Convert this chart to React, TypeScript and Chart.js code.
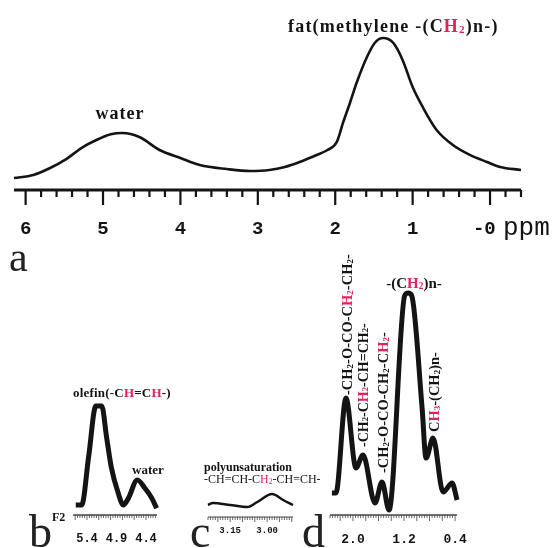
import React, { useEffect, useRef } from 'react';
import { Chart, registerables } from 'chart.js';

Chart.register(...registerables);

const PAGE_W = 553;
const PAGE_H = 548;
const INK = '#141414';
const RED = '#e3215a';
const SERIF = '"Liberation Serif", "Times New Roman", serif';
const MONO = '"Liberation Mono", "Courier New", monospace';

// ---------- panel a : full spectrum ----------
const ppmA = [6.15, 5.9, 5.69, 5.47, 5.27, 5.05, 4.9, 4.75, 4.53, 4.27, 4.0, 3.75, 3.4, 3.1, 2.85, 2.65, 2.46, 2.24, 2.1, 1.98, 1.9, 1.81, 1.72, 1.59, 1.49, 1.38, 1.25, 1.13, 1.0, 0.87, 0.69, 0.48, 0.26, 0.04, -0.13, -0.4];
const intensityA = [7.5, 9.4, 13.6, 19.5, 26.5, 32, 34.8, 35.6, 33.1, 25, 20, 15.6, 13.1, 11.9, 12.5, 14.4, 17.5, 21.9, 25, 30, 41.9, 54.4, 67.5, 83.1, 91.9, 95, 91.9, 81.3, 64.4, 51.9, 37.5, 28.1, 21.9, 17.5, 14.4, 12.5];
const tickValsA = [6, 5, 4, 3, 2, 1, 0];
const tickLabelsA = ['6', '5', '4', '3', '2', '1', '-0 '];

// ---------- panel b : olefin / water ----------
const ppmB = [5.59, 5.49, 5.37, 5.25, 5.15, 5.07, 4.99, 4.87, 4.785, 4.7, 4.547, 4.417, 4.3, 4.22];
const intensityB = [8.8, 8.8, 52, 95.6, 95.6, 69, 42.4, 19, 8.8, 14.6, 30.7, 23.4, 14.6, 5.9];
const tickValsB = [5.4, 4.9, 4.4];
const tickLabelsB = ['5.4', '4.9', '4.4'];

// ---------- panel c : polyunsaturation ----------
const ppmC = [3.24, 3.22, 3.15, 3.08, 3.04, 2.98, 2.935, 2.895];
const intensityC = [30, 35, 30, 25, 37.5, 57.5, 42.5, 30];
const tickValsC = [3.15, 3.0];
const tickLabelsC = ['3.15', '3.00'];

// ---------- panel d : aliphatic region ----------
const ppmD = [2.33, 2.267, 2.11, 1.953, 1.843, 1.655, 1.545, 1.435, 1.19, 1.137, 1.08, 0.918, 0.855, 0.745, 0.588, 0.447, 0.369];
const intensityD = [9.8, 9.8, 52, 20.9, 26.7, 5.3, 14.7, 2.2, 97.5, 98.7, 97.5, 48, 25.3, 34.2, 10.2, 14.2, 6.7];
const tickValsD = [2.0, 1.2, 0.4];
const tickLabelsD = ['2.0', '1.2', '0.4'];

type Note = {
  text: string; x: number; y: number; size: number; bold?: boolean;
  align?: 'left' | 'center'; rotate?: boolean; font?: string; spacing?: number; base?: boolean; color?: string;
};

type Ruler = { step: number; every: number; minorLen: number; majorLen: number; tickWidth: number; lineWidth: number; color: string };

type PanelCfg = {
  key: string; ppm: number[]; inten: number[];
  area: { l: number; r: number; t: number; b: number };
  range: [number, number];
  tickVals: number[]; tickLabels: string[];
  tickSize: number; tickWeight: string; tickPad: number;
  lineWidth: number; ruler: Ruler; notes: Note[];
};

function parseRich(s: string) {
  const segs: { t: string; red: boolean; sub: boolean }[] = [];
  let red = false;
  for (let i = 0; i < s.length; i++) {
    const c = s[i];
    if (c === '{') { red = true; continue; }
    if (c === '}') { red = false; continue; }
    if (c === '_') { segs.push({ t: s[i + 1], red, sub: true }); i++; continue; }
    segs.push({ t: c, red, sub: false });
  }
  return segs;
}

function drawNote(ctx: CanvasRenderingContext2D, n: Note) {
  ctx.save();
  const segs = parseRich(n.text);
  const family = n.font ?? SERIF;
  const fontFor = (sub: boolean) => `${n.bold ? 'bold ' : ''}${sub ? n.size * 0.62 : n.size}px ${family}`;
  (ctx as any).letterSpacing = `${n.spacing ?? 0}px`;
  const widths = segs.map((s) => { ctx.font = fontFor(s.sub); return ctx.measureText(s.t).width; });
  const total = widths.reduce((a, b) => a + b, 0);
  ctx.translate(n.x, n.y);
  if (n.rotate) ctx.rotate(-Math.PI / 2);
  let x0 = n.align === 'center' ? -total / 2 : 0;
  const base = n.base ? 0 : n.size * 0.34;
  ctx.textBaseline = 'alphabetic';
  ctx.textAlign = 'left';
  segs.forEach((s, i) => {
    ctx.font = fontFor(s.sub);
    ctx.fillStyle = s.red ? RED : (n.color ?? INK);
    ctx.fillText(s.t, x0, base + (s.sub ? n.size * 0.05 : 0));
    x0 += widths[i];
  });
  ctx.restore();
}

function buildConfig(cfg: PanelCfg): any {
  const a = cfg.area;
  const rulerPlugin = {
    id: 'ruler_' + cfg.key,
    afterDatasetsDraw(chart: any) {
      const ctx: CanvasRenderingContext2D = chart.ctx;
      const sx = chart.scales.x;
      const area = chart.chartArea;
      const r = cfg.ruler;
      ctx.save();
      ctx.strokeStyle = r.color;
      ctx.lineCap = 'butt';
      ctx.lineWidth = r.lineWidth;
      ctx.beginPath();
      ctx.moveTo(area.left, area.bottom);
      ctx.lineTo(area.right, area.bottom);
      ctx.stroke();
      const lo = Math.min(sx.min, sx.max);
      const hi = Math.max(sx.min, sx.max);
      const k0 = Math.ceil(lo / r.step - 1e-6);
      const k1 = Math.floor(hi / r.step + 1e-6);
      ctx.lineWidth = r.tickWidth;
      for (let k = k0; k <= k1; k++) {
        const px = sx.getPixelForValue(k * r.step);
        const major = ((k % r.every) + r.every) % r.every === 0;
        ctx.beginPath();
        ctx.moveTo(px, area.bottom);
        ctx.lineTo(px, area.bottom + (major ? r.majorLen : r.minorLen));
        ctx.stroke();
      }
      ctx.restore();
    },
  };
  const notesPlugin = {
    id: 'notes_' + cfg.key,
    afterDraw(chart: any) {
      cfg.notes.forEach((n) => drawNote(chart.ctx, n));
    },
  };
  return {
    type: 'line',
    data: {
      datasets: [{
        data: cfg.ppm.map((p, i) => ({ x: p, y: cfg.inten[i] })),
        borderColor: INK,
        borderWidth: cfg.lineWidth,
        pointRadius: 0,
        cubicInterpolationMode: 'monotone',
        fill: false,
        clip: false,
        borderJoinStyle: 'round',
        borderCapStyle: 'butt',
      }],
    },
    options: {
      responsive: false,
      animation: false,
      devicePixelRatio: 1,
      events: [],
      layout: { padding: { left: a.l, right: PAGE_W - a.r, top: a.t, bottom: 0 } },
      plugins: { legend: { display: false }, tooltip: { enabled: false } },
      scales: {
        x: {
          type: 'linear',
          reverse: true,
          min: cfg.range[0],
          max: cfg.range[1],
          grid: { display: false, drawTicks: false },
          border: { display: false },
          afterBuildTicks: (s: any) => { s.ticks = cfg.tickVals.map((v) => ({ value: v })); },
          afterFit: (s: any) => { s.height = PAGE_H - a.b; s.paddingLeft = 0; s.paddingRight = 0; },
          ticks: {
            autoSkip: false, maxRotation: 0, minRotation: 0,
            padding: cfg.tickPad, color: INK,
            font: { family: MONO, size: cfg.tickSize, weight: cfg.tickWeight },
            callback: (_v: any, i: number) => cfg.tickLabels[i],
          },
        },
        y: { display: false, min: 0, max: 100 },
      },
    },
    plugins: [rulerPlugin, notesPlugin],
  };
}

const panels: PanelCfg[] = [
  {
    key: 'a', ppm: ppmA, inten: intensityA,
    area: { l: 14, r: 521, t: 30, b: 190 }, range: [-0.4, 6.15],
    tickVals: tickValsA, tickLabels: tickLabelsA, tickSize: 19, tickWeight: 'bold', tickPad: 28,
    lineWidth: 2.6,
    ruler: { step: 0.2, every: 5, minorLen: 7, majorLen: 15, tickWidth: 2.2, lineWidth: 3, color: INK },
    notes: [
      { text: 'water', x: 120, y: 113, size: 18, bold: true, align: 'center', spacing: 1 },
      { text: 'fat(methylene -(C{H_2})n-)', x: 288, y: 26, size: 18, bold: true, spacing: 1.2 },
      { text: 'a', x: 9, y: 271, size: 42, base: true, color: '#222' },
      { text: 'ppm', x: 503, y: 235, size: 26, font: MONO, base: true },
    ],
  },
  {
    key: 'b', ppm: ppmB, inten: intensityB,
    area: { l: 73, r: 157, t: 401, b: 515 }, range: [4.214, 5.637],
    tickVals: tickValsB, tickLabels: tickLabelsB, tickSize: 12, tickWeight: 'bold', tickPad: 17,
    lineWidth: 5,
    ruler: { step: 0.04, every: 5, minorLen: 3, majorLen: 5, tickWidth: 0.8, lineWidth: 1.3, color: '#444' },
    notes: [
      { text: 'olefin(-C{H}=C{H}-)', x: 73, y: 393, size: 13, bold: true, spacing: 0.2 },
      { text: 'water', x: 148, y: 470, size: 13, bold: true, align: 'center' },
      { text: 'F2', x: 52, y: 517, size: 12, bold: true },
      { text: 'b', x: 29, y: 547, size: 46, base: true, color: '#222' },
    ],
  },
  {
    key: 'c', ppm: ppmC, inten: intensityC,
    area: { l: 208, r: 293, t: 477, b: 517 }, range: [2.895, 3.24],
    tickVals: tickValsC, tickLabels: tickLabelsC, tickSize: 9, tickWeight: 'bold', tickPad: 8,
    lineWidth: 2.5,
    ruler: { step: 0.01, every: 5, minorLen: 3, majorLen: 5, tickWidth: 0.8, lineWidth: 1.2, color: '#444' },
    notes: [
      { text: 'polyunsaturation', x: 204, y: 467, size: 12, bold: true },
      { text: '-CH=CH-C{H_2}-CH=CH-', x: 204, y: 479, size: 12 },
      { text: 'c', x: 190, y: 547, size: 46, base: true, color: '#222' },
    ],
  },
  {
    key: 'd', ppm: ppmD, inten: intensityD,
    area: { l: 330, r: 457, t: 290, b: 515 }, range: [0.37, 2.36],
    tickVals: tickValsD, tickLabels: tickLabelsD, tickSize: 13, tickWeight: 'bold', tickPad: 17,
    lineWidth: 5,
    ruler: { step: 0.04, every: 5, minorLen: 3, majorLen: 6, tickWidth: 0.8, lineWidth: 1.3, color: '#444' },
    notes: [
      { text: '-CH_2-O-CO-C{H_2}-CH_2-', x: 347, y: 395, size: 14.5, bold: true, rotate: true },
      { text: '-CH_2-C{H_2}-CH=CH_2-', x: 363, y: 447, size: 14, bold: true, rotate: true },
      { text: '-CH_2-O-CO-CH_2-C{H_2}-', x: 383, y: 473, size: 14.5, bold: true, rotate: true },
      { text: 'C{H_3}-(CH_2)n-', x: 434, y: 432, size: 14.5, bold: true, rotate: true },
      { text: '-(C{H_2})n-', x: 414, y: 283, size: 15, bold: true, align: 'center' },
      { text: 'd', x: 302, y: 547, size: 46, base: true, color: '#222' },
    ],
  },
];

function Panel({ cfg }: { cfg: PanelCfg }) {
  const ref = useRef<HTMLCanvasElement>(null);
  useEffect(() => {
    const chart = new Chart(ref.current as HTMLCanvasElement, buildConfig(cfg));
    return () => chart.destroy();
  }, [cfg]);
  return (
    <canvas
      ref={ref}
      width={PAGE_W}
      height={PAGE_H}
      style={{ position: 'absolute', left: 0, top: 0, width: PAGE_W, height: PAGE_H }}
    />
  );
}

export default function App() {
  return (
    <div style={{ position: 'absolute', left: 0, top: 0, width: PAGE_W, height: PAGE_H, background: '#fff', overflow: 'hidden' }}>
      {panels.map((p) => <Panel key={p.key} cfg={p} />)}
    </div>
  );
}
